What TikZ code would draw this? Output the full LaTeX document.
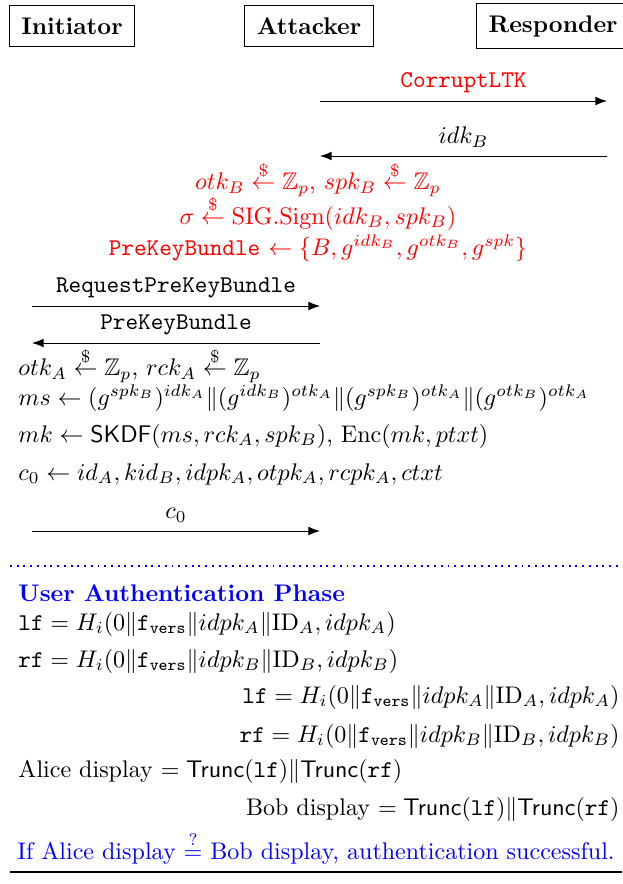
\documentclass[tikz,border=0pt]{standalone}
\usepackage{amsmath,amssymb}
\usepackage{tikz}
\usetikzlibrary{arrows.meta,positioning,calc}
\newcommand{\rsample}{\stackrel{\$}{\leftarrow}}
\newcommand{\ftt}[1]{\mathtt{#1}}

\begin{document}
\begin{tikzpicture}[x=0.416pt,y=-0.416pt,>=Latex,
    actor/.style={draw,font=\bfseries,inner sep=5pt},
    msg/.style={->},
    lbl/.style={midway,above=0pt},
    eqL/.style={anchor=west,inner sep=0pt},
    eqR/.style={anchor=east,inner sep=0pt}]
  \useasboundingbox (0,0) rectangle (622,884);
  % parties
  \node[actor] (ini) at (72,26) {Initiator};
  \node[actor] (att) at (309,26) {Attacker};
  \node[actor,anchor=west] (res) at (476,26) {Responder};
  % attacker corrupts responder
  \coordinate (a1) at (320,101);
  \coordinate (r1) at (607,101);
  \draw[msg] (a1) -- (r1) node[lbl,red] {\texttt{CorruptLTK}};
  \coordinate (a2) at (320,156);
  \coordinate (r2) at (607,156);
  \draw[msg] (r2) -- (a2) node[lbl] {$idk_B$};
  \node[red] (gen) at (318,179) {$otk_B \rsample \mathbb{Z}_p$, $spk_B \rsample \mathbb{Z}_p$};
  \node[red] (sig) at (318,213) {$\sigma \rsample \mathrm{SIG.Sign}(idk_B, spk_B)$};
  \node[red] (pkb) at (318,248) {\texttt{PreKeyBundle} $\leftarrow \{B, g^{idk_B}, g^{otk_B}, g^{spk}\}$};
  % initiator and attacker
  \coordinate (i3) at (32,306);
  \coordinate (a3) at (320,306);
  \draw[msg] (i3) -- (a3) node[lbl] {\texttt{RequestPreKeyBundle}};
  \coordinate (i4) at (32,343);
  \coordinate (a4) at (320,343);
  \draw[msg] (a4) -- (i4) node[lbl] {\texttt{PreKeyBundle}};
  \node[eqL] (l1) at (18,365) {$otk_A \rsample \mathbb{Z}_p$, $rck_A \rsample \mathbb{Z}_p$};
  \node[eqL] (l2) at (18,398) {$ms \leftarrow (g^{spk_B})^{idk_A}\|(g^{idk_B})^{otk_A}\|(g^{spk_B})^{otk_A}\|(g^{otk_B})^{otk_A}$};
  \node[eqL] (l3) at (18,436) {$mk \leftarrow \mathsf{SKDF}(ms, rck_A, spk_B)$, $\mathrm{Enc}(mk, ptxt)$};
  \node[eqL] (l4) at (18,474) {$c_0 \leftarrow id_A, kid_B, idpk_A, otpk_A, rcpk_A, ctxt$};
  \coordinate (i5) at (32,531);
  \coordinate (a5) at (320,531);
  \draw[msg] (i5) -- (a5) node[lbl] {$c_0$};
  % authentication phase
  \coordinate (sepL) at (10,566);
  \coordinate (sepR) at (622,566);
  \draw[blue,thick,dotted] (sepL) -- (sepR);
  \node[eqL,blue,font=\bfseries] (phase) at (18,593) {User Authentication Phase};
  \node[eqL] (lfA) at (18,624) {$\ftt{lf} = H_i(0\|\ftt{f}_{\ftt{vers}}\|idpk_A\|\mathrm{ID}_A, idpk_A)$};
  \node[eqL] (rfA) at (18,661) {$\ftt{rf} = H_i(0\|\ftt{f}_{\ftt{vers}}\|idpk_B\|\mathrm{ID}_B, idpk_B)$};
  \node[eqR] (lfB) at (620,697) {$\ftt{lf} = H_i(0\|\ftt{f}_{\ftt{vers}}\|idpk_A\|\mathrm{ID}_A, idpk_A)$};
  \node[eqR] (rfB) at (620,736) {$\ftt{rf} = H_i(0\|\ftt{f}_{\ftt{vers}}\|idpk_B\|\mathrm{ID}_B, idpk_B)$};
  \node[eqL] (dispA) at (18,771) {Alice display $= \mathsf{Trunc}(\ftt{lf})\|\mathsf{Trunc}(\ftt{rf})$};
  \node[eqR] (dispB) at (620,809) {Bob display $= \mathsf{Trunc}(\ftt{lf})\|\mathsf{Trunc}(\ftt{rf})$};
  \node[blue] (check) at (316,848) {If Alice display $\stackrel{?}{=}$ Bob display, authentication successful.};
  \coordinate (endL) at (10,872);
  \coordinate (endR) at (622,872);
  \draw[very thick] (endL) -- (endR);
\end{tikzpicture}
\end{document}
